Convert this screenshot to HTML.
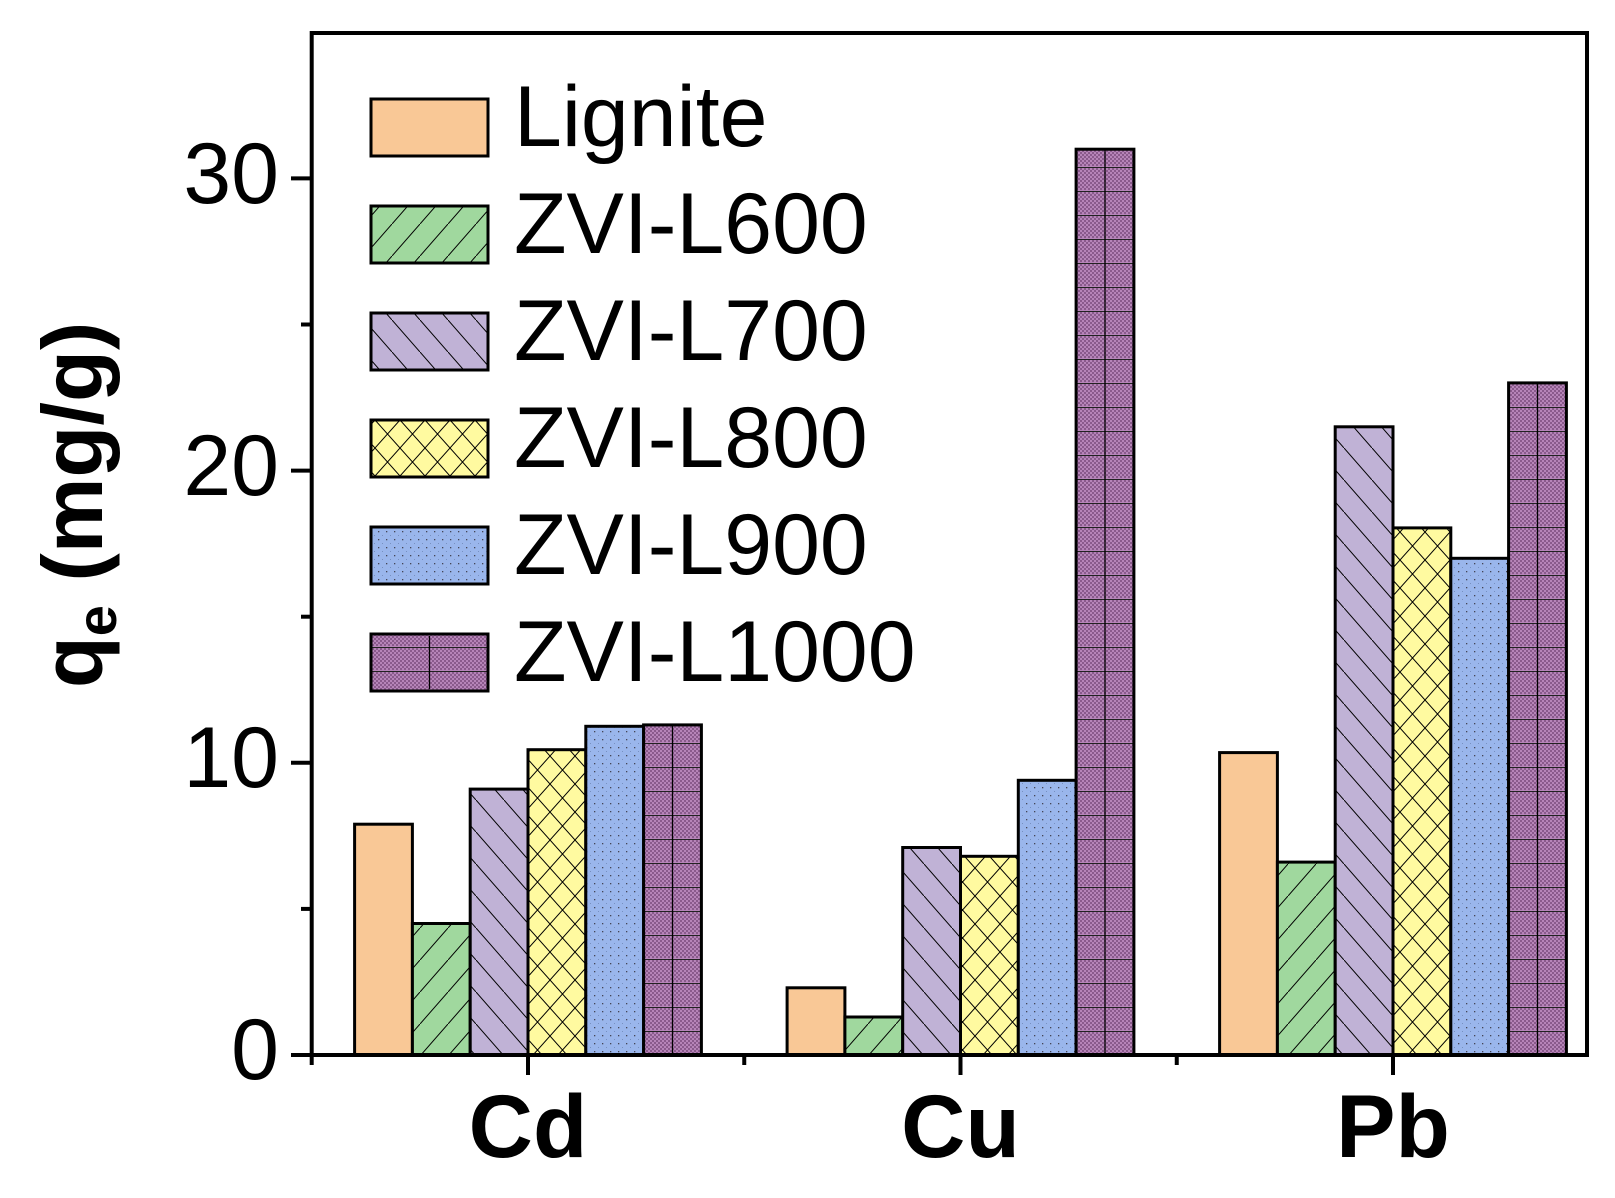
<!DOCTYPE html>
<html><head><meta charset="utf-8"><style>
html,body{margin:0;padding:0;background:#fff;}
svg{display:block;}
text{font-family:"Liberation Sans",Arial,sans-serif;}
</style></head><body>
<svg width="1615" height="1198" viewBox="0 0 1615 1198" xmlns="http://www.w3.org/2000/svg">
<defs>
<pattern id="p600" patternUnits="userSpaceOnUse" width="28" height="32">
<rect width="28" height="32" fill="#a0d89e"/>
<path d="M-7,40 L35,-8" stroke="#000" stroke-width="1"/>
</pattern>
<pattern id="p700" patternUnits="userSpaceOnUse" width="28" height="32">
<rect width="28" height="32" fill="#c0b2d6"/>
<path d="M-7,-8 L35,40" stroke="#000" stroke-width="1"/>
</pattern>
<pattern id="p800" patternUnits="userSpaceOnUse" width="25" height="28">
<rect width="25" height="28" fill="#fffaa0"/>
<path d="M0,0 L25,28 M25,0 L0,28" stroke="#000" stroke-width="1"/>
</pattern>
<pattern id="p900" patternUnits="userSpaceOnUse" width="8" height="8">
<rect width="8" height="8" fill="#9ab6ec"/>
<rect x="2" y="3" width="1.3" height="1.3" fill="#445"/>
<rect x="6" y="7" width="1" height="1" fill="#7790c0"/>
</pattern>
<pattern id="p1000" patternUnits="userSpaceOnUse" width="4" height="24">
<rect width="4" height="24" fill="#b684b8"/>
<rect x="0" y="0" width="2" height="2" fill="#8a5a8c"/>
<rect x="2" y="2" width="2" height="2" fill="#8a5a8c"/>
<rect x="0" y="4" width="2" height="2" fill="#8a5a8c"/>
<rect x="2" y="6" width="2" height="2" fill="#8a5a8c"/>
<rect x="0" y="8" width="2" height="2" fill="#8a5a8c"/>
<rect x="2" y="10" width="2" height="2" fill="#8a5a8c"/>
<rect x="0" y="12" width="2" height="2" fill="#8a5a8c"/>
<rect x="2" y="14" width="2" height="2" fill="#8a5a8c"/>
<rect x="0" y="16" width="2" height="2" fill="#8a5a8c"/>
<rect x="2" y="18" width="2" height="2" fill="#8a5a8c"/>
<rect x="0" y="20" width="2" height="2" fill="#8a5a8c"/>
<rect x="0" y="23" width="4" height="1" fill="#222"/>
</pattern>
</defs>

<g stroke="#000" stroke-width="3">
<!-- Cd center 528 -->
<rect x="354.6" y="824.2" width="57.8" height="230.8" fill="#f9c896"/>
<rect x="412.4" y="923.5" width="57.8" height="131.5" fill="url(#p600)"/>
<rect x="470.2" y="789.1" width="57.8" height="265.9" fill="url(#p700)"/>
<rect x="528" y="749.7" width="57.8" height="305.3" fill="url(#p800)"/>
<rect x="585.8" y="726.3" width="57.8" height="328.7" fill="url(#p900)"/>
<rect x="643.6" y="724.9" width="57.8" height="330.1" fill="url(#p1000)"/>
<!-- Cu center 960.5 -->
<rect x="787.1" y="987.8" width="57.8" height="67.2" fill="#f9c896"/>
<rect x="844.9" y="1017" width="57.8" height="38" fill="url(#p600)"/>
<rect x="902.7" y="847.5" width="57.8" height="207.5" fill="url(#p700)"/>
<rect x="960.5" y="856.3" width="57.8" height="198.7" fill="url(#p800)"/>
<rect x="1018.3" y="780.3" width="57.8" height="274.7" fill="url(#p900)"/>
<rect x="1076.1" y="149.2" width="57.8" height="905.8" fill="url(#p1000)"/>
<!-- Pb center 1393 -->
<rect x="1219.6" y="752.6" width="57.8" height="302.4" fill="#f9c896"/>
<rect x="1277.4" y="862.1" width="57.8" height="192.9" fill="url(#p600)"/>
<rect x="1335.2" y="426.8" width="57.8" height="628.2" fill="url(#p700)"/>
<rect x="1393" y="527.9" width="57.8" height="527.1" fill="url(#p800)"/>
<rect x="1450.8" y="558.3" width="57.8" height="496.7" fill="url(#p900)"/>
<rect x="1508.6" y="382.9" width="57.8" height="672.1" fill="url(#p1000)"/>
</g>
<g stroke="#000" stroke-width="1.3">
<line x1="672.5" y1="726" x2="672.5" y2="1054"/>
<line x1="1105" y1="150" x2="1105" y2="1054"/>
<line x1="1537.5" y1="384" x2="1537.5" y2="1054"/>
</g>

<rect x="311.7" y="33" width="1275.3" height="1022" fill="none" stroke="#000" stroke-width="4"/>
<g stroke="#000" stroke-width="4">
<line x1="291" y1="1055" x2="311.7" y2="1055"/>
<line x1="291" y1="762.8" x2="311.7" y2="762.8"/>
<line x1="291" y1="470.6" x2="311.7" y2="470.6"/>
<line x1="291" y1="178.4" x2="311.7" y2="178.4"/>
<line x1="301" y1="908.9" x2="311.7" y2="908.9"/>
<line x1="301" y1="616.7" x2="311.7" y2="616.7"/>
<line x1="301" y1="324.5" x2="311.7" y2="324.5"/>
<line x1="528" y1="1055" x2="528" y2="1075"/>
<line x1="960.5" y1="1055" x2="960.5" y2="1075"/>
<line x1="1393" y1="1055" x2="1393" y2="1075"/>
<line x1="311.7" y1="1055" x2="311.7" y2="1065"/>
<line x1="744.25" y1="1055" x2="744.25" y2="1065"/>
<line x1="1176.75" y1="1055" x2="1176.75" y2="1065"/>
</g>
<g font-size="86" text-anchor="end" fill="#000">
<text x="279" y="1079">0</text>
<text x="279" y="787">10</text>
<text x="279" y="495">20</text>
<text x="279" y="203">30</text>
</g>
<g font-size="89" font-weight="bold" text-anchor="middle" fill="#000">
<text x="528" y="1157">Cd</text>
<text x="960.5" y="1157">Cu</text>
<text x="1393" y="1157">Pb</text>
</g>
<text transform="translate(102,505) rotate(-90)" font-size="85" font-weight="bold" text-anchor="middle" fill="#000">q<tspan font-size="56" dy="14">e</tspan><tspan dy="-14"> (mg/g)</tspan></text>

<g stroke="#000" stroke-width="3">
<rect x="371" y="99" width="117" height="57" fill="#f9c896"/>
<rect x="371" y="206" width="117" height="57" fill="url(#p600)"/>
<rect x="371" y="313" width="117" height="57" fill="url(#p700)"/>
<rect x="371" y="420" width="117" height="57" fill="url(#p800)"/>
<rect x="371" y="527" width="117" height="57" fill="url(#p900)"/>
<rect x="371" y="634" width="117" height="57" fill="url(#p1000)"/>
</g>
<line x1="429.5" y1="636" x2="429.5" y2="689" stroke="#000" stroke-width="1.3"/>
<g font-size="86" fill="#000">
<text x="514" y="146">Lignite</text>
<text x="514" y="253">ZVI-L600</text>
<text x="514" y="360">ZVI-L700</text>
<text x="514" y="467">ZVI-L800</text>
<text x="514" y="574">ZVI-L900</text>
<text x="514" y="681">ZVI-L1000</text>
</g>
</svg>
</body></html>
